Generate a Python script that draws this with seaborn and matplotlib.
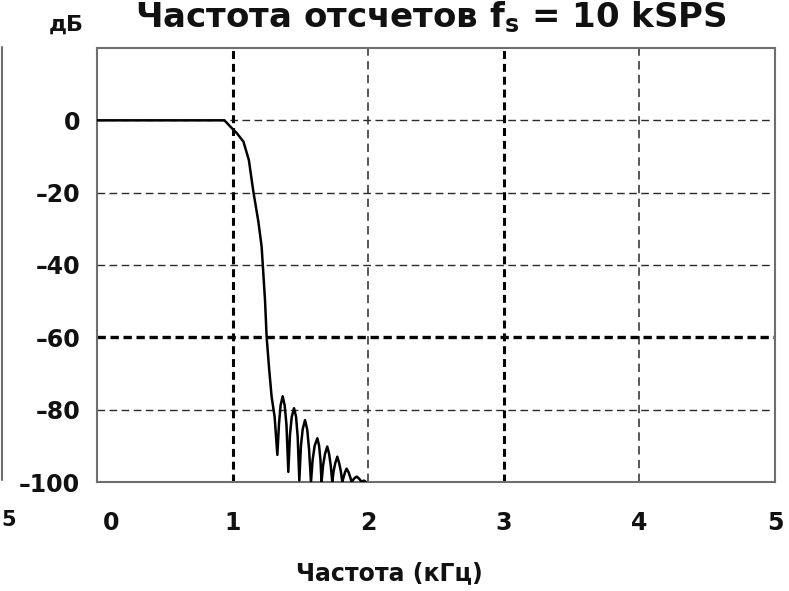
import matplotlib
matplotlib.use("Agg")
import matplotlib.pyplot as plt
import matplotlib.transforms as mtransforms
from matplotlib.lines import Line2D
import seaborn as sns
import pandas as pd

# ---- data ----
freq_khz = [0.00, 0.94, 0.99, 1.03, 1.08, 1.12, 1.153, 1.19, 1.214, 1.239, 1.251, 1.27, 1.288,
            1.310, 1.330,
            1.342, 1.354, 1.369, 1.384, 1.397, 1.411,
            1.423, 1.436, 1.453, 1.468, 1.480, 1.492,
            1.504, 1.517, 1.534, 1.550, 1.564, 1.578,
            1.590, 1.605, 1.625, 1.638, 1.648, 1.656,
            1.667, 1.681, 1.698, 1.712, 1.724, 1.735,
            1.745, 1.757, 1.772, 1.786, 1.798, 1.809,
            1.819, 1.829, 1.841, 1.855, 1.867, 1.878,
            1.889, 1.900, 1.915, 1.928, 1.940, 1.952,
            1.968, 1.984]
level_db = [0.0, 0.0, -2.0, -3.5, -5.9, -11.0, -19.7, -28.0, -34.9, -49.7, -59.9, -69.0, -76.5,
            -82.0, -92.5,
            -84.0, -78.8, -76.3, -78.8, -84.0, -97.2,
            -87.0, -82.0, -79.6, -82.0, -87.5, -99.6,
            -90.0, -85.4, -82.9, -85.4, -91.0, -100.0,
            -94.0, -90.0, -87.9, -90.0, -94.0, -100.0,
            -95.5, -92.3, -90.2, -92.3, -95.5, -100.0,
            -97.0, -94.8, -93.0, -94.8, -97.0, -100.0,
            -98.6, -97.3, -96.3, -97.3, -98.6, -100.0,
            -99.4, -98.9, -98.5, -98.9, -99.4, -100.0,
            -99.6, -100.0]

x_ticks = [0, 1, 2, 3, 4, 5]
x_tick_labels = ["0", "1", "2", "3", "4", "5"]
y_ticks = [0, -20, -40, -60, -80, -100]
y_tick_labels = ["0", "\u201320", "\u201340", "\u201360", "\u201380", "\u2013100"]

grid_x_bold = [1, 3]
grid_x_thin = [2, 4]
grid_y_bold = [-60]
grid_y_thin = [0, -20, -40, -80]

title_text = "Частота отсчетов f$_\\mathbf{s}$ = 10 kSPS"
x_label = "Частота (кГц)"
y_unit = "дБ"

df = pd.DataFrame({"freq": freq_khz, "db": level_db})

# ---- style ----
sns.set_theme(style="white")
plt.rcParams["font.family"] = ["DejaVu Sans"]
plt.rcParams["font.weight"] = "bold"
plt.rcParams["mathtext.fontset"] = "dejavusans"

W, H = 789, 591
fig = plt.figure(figsize=(W / 100, H / 100), dpi=100)
fig.patch.set_facecolor("white")
ax = fig.add_axes([97 / W, 1 - 482 / H, (775 - 97) / W, (482 - 48) / H])
ax.set_facecolor("white")

# grid lines
for gx in grid_x_thin:
    ax.axvline(gx, color="#2a2a2a", lw=1.1, dashes=(5.5, 3.5), zorder=1)
for gy in grid_y_thin:
    ax.axhline(gy, color="#2a2a2a", lw=1.0, dashes=(5.5, 3.2), zorder=1)
for gx in grid_x_bold:
    ax.axvline(gx, color="black", lw=2.2, dashes=(2.6, 1.6), zorder=1)
for gy in grid_y_bold:
    ax.axhline(gy, color="black", lw=2.4, dashes=(2.5, 1.4), zorder=1)

sns.lineplot(data=df, x="freq", y="db", ax=ax, color="black", lw=1.8,
             estimator=None, sort=False, zorder=3)

ax.set_xlim(0, 5)
ax.set_ylim(-100, 20)
ax.set_xticks(x_ticks)
ax.set_xticklabels(x_tick_labels)
ax.set_yticks(y_ticks)
ax.set_yticklabels(y_tick_labels)
ax.tick_params(axis="both", length=0, labelsize=17, colors="#111111")
ax.tick_params(axis="x", pad=21)
ax.tick_params(axis="y", pad=12)
for lab in ax.get_xticklabels() + ax.get_yticklabels():
    lab.set_fontweight("bold")
# first x label sits slightly right of the axis corner
first = ax.get_xticklabels()[0]
first.set_transform(first.get_transform() + mtransforms.ScaledTranslation(14 / 100, 0, fig.dpi_scale_trans))

for sp in ax.spines.values():
    sp.set_color("#6e6e6e")
    sp.set_linewidth(1.5)
    sp.set_visible(True)

ax.set_xlabel(x_label, fontsize=17, fontweight="bold", color="#111111")
ax.xaxis.set_label_coords((389 - 97) / (775 - 97), (482 - 573) / (482 - 48))
ax.xaxis.label.set_va("center")
ax.set_ylabel("")

fig.text(66 / W, 1 - 31 / H, y_unit, ha="center", va="baseline", fontsize=16,
         fontweight="bold", color="#111111")
fig.text(431 / W, 1 - 27 / H, title_text, ha="center", va="baseline", fontsize=24.5,
         fontweight="bold", color="#111111")

# fragment of the neighbouring panel at the left edge
fig.add_artist(Line2D([2 / W, 2 / W], [1 - 47 / H, 1 - 480 / H], transform=fig.transFigure,
                      color="#6e6e6e", lw=1.5))
fig.text(1 / W, 1 - 520 / H, "5", ha="left", va="center", fontsize=15,
         fontweight="bold", color="#111111")

fig.savefig("out.png", dpi=100, facecolor="white")
